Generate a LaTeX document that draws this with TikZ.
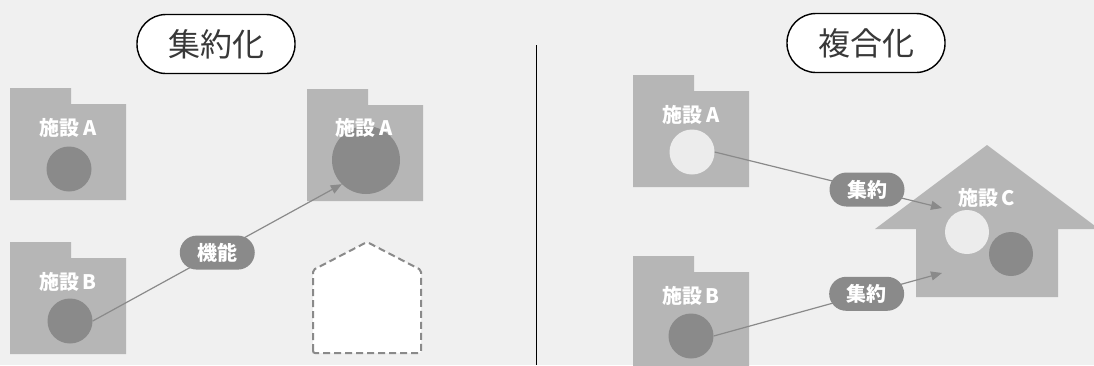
\documentclass[tikz,border=0pt]{standalone}
\usepackage{fontspec}
\newfontfamily\jpfont{Noto Sans CJK JP}
\usetikzlibrary{arrows.meta}
\definecolor{bgcol}{HTML}{F0F0F0}
\definecolor{boxcol}{HTML}{B6B6B6}
\definecolor{darkcol}{HTML}{8A8A8A}
\definecolor{lightcol}{HTML}{ECECEC}
\definecolor{titlecol}{HTML}{383838}
\tikzset{
title/.style={
	draw, line width=1.4pt, fill=white, rounded corners=29pt,
	minimum width=158pt, minimum height=59pt, inner sep=0pt,
	text=titlecol, font=\jpfont\fontsize{32}{32}\selectfont},
tag/.style={
	fill=darkcol, rounded corners=17pt, minimum width=75pt,
	minimum height=34pt, inner sep=0pt, text=white,
	font=\jpfont\bfseries\fontsize{20}{20}\selectfont},
facname/.style={text=white, inner sep=0pt,
	font=\jpfont\bfseries\fontsize{20}{20}\selectfont},
ball/.style={circle, fill=darkcol, minimum size=45pt, inner sep=0pt},
lightball/.style={ball, fill=lightcol},
link/.style={draw=darkcol, line width=1.2pt,
	-{Triangle[length=11pt,width=9pt]}}
}
% folder shaped facility: name, left, top, label
\newcommand{\facility}[4]{
	\fill[boxcol] (#2,#3) -- ++(61,0) -- ++(0,16) -- ++(55,0)
		-- ++(0,96) -- ++(-116,0) -- cycle;
	\node[facname] (#1) at (#2+58,#3+40) {#4};
}

\begin{document}
\begin{tikzpicture}[x=1pt, y=-1pt]
	\useasboundingbox (0,0) rectangle (1094,365);
	\clip (0,0) rectangle (1094,365);
	\fill[bgcol] (0,0) rectangle (1094,365);
	\draw[line width=0.8pt] (536,45) -- (536,365);

	% left side
	\node[title] (t1) at (216,44) {集約化};
	\facility{fA}{10}{88}{施設\,A}
	\facility{fB}{10}{242}{施設\,B}
	\facility{fA2}{307}{89}{}
	\node[ball] (cA) at (69,169) {};
	\node[ball] (cB) at (70,321) {};
	\node[ball, minimum size=68pt] (bigA) at (366,160) {};
	\node[facname] (nA2) at (364,128) {施設\,A};
	\draw[draw=darkcol, fill=white, line width=2pt, dash pattern=on 7pt off 4pt,
		rounded corners=2pt] (313,353) -- (313,270) -- (367,242) -- (421,270)
		-- (421,353) -- cycle;
	\draw[link] (cB.east) -- node[tag] {機能} (bigA.225);

	% right side
	\node[title] (t2) at (866,43) {複合化};
	\facility{gA}{633}{75}{施設\,A}
	\facility{gB}{633}{256}{施設\,B}
	\node[lightball] (rA) at (692,152) {};
	\node[ball] (rB) at (691,336) {};
	\fill[boxcol] (875,229) -- (987,145) -- (1099,229) -- (1058,229)
		-- (1058,297) -- (916,297) -- (916,229) -- cycle;
	\node[facname] (nC) at (987,198) {施設\,C};
	\node[lightball, minimum size=44pt] (cC1) at (967,232) {};
	\node[ball, minimum size=44pt] (cC2) at (1011,254) {};
	\coordinate (in1) at (942,208);
	\coordinate (in2) at (942,273);
	\draw[link] (rA.east) -- node[tag, pos=0.67] {集約} (in1);
	\draw[link] (rB.east) -- node[tag, pos=0.67] {集約} (in2);
\end{tikzpicture}
\end{document}
